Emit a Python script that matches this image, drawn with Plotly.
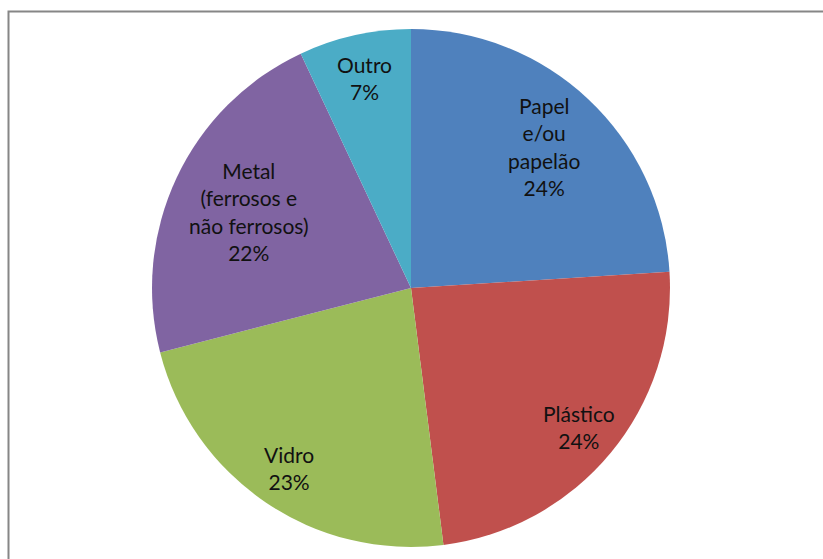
import math
import plotly.graph_objects as go

# Composição dos resíduos recicláveis (%)
labels = ["Papel e/ou papelão", "Plástico", "Vidro", "Metal (ferrosos e não ferrosos)", "Outro"]
label_lines = ["Papel<br>e/ou<br>papelão", "Plástico", "Vidro", "Metal<br>(ferrosos e<br>não ferrosos)", "Outro"]
values = [24, 24, 23, 22, 7]
colors = ["#4F81BD", "#C0504D", "#9BBB59", "#8064A2", "#4BACC6"]

W, H = 823, 559
cx, cy, R = 411, 288, 259  # pie centre and radius in pixels
label_radius = [0.75, 0.84, 0.84, 0.69, 0.83]

fig = go.Figure(go.Pie(
    labels=labels,
    values=values,
    sort=False,
    direction="clockwise",
    rotation=0,
    marker=dict(colors=colors, line=dict(width=0)),
    textinfo="none",
    hoverinfo="label+percent",
    showlegend=False,
    domain=dict(x=[(cx - R) / W, (cx + R) / W], y=[1 - (cy + R) / H, 1 - (cy - R) / H]),
))

# Data labels placed at each slice's mid-angle
total = sum(values)
cum = 0
annotations = []
for text, v, rf in zip(label_lines, values, label_radius):
    mid = (cum + v / 2) / total * 2 * math.pi
    cum += v
    px = cx + rf * R * math.sin(mid)
    py = cy - rf * R * math.cos(mid)
    annotations.append(dict(
        x=px / W, y=1 - py / H, xref="paper", yref="paper",
        text=f"{text}<br>{round(v / total * 100)}%",
        showarrow=False, xanchor="center", yanchor="middle",
        font=dict(family="Lato, Carlito, sans-serif", size=21, color="#111111"),
        align="center",
    ))

fig.update_layout(
    width=W, height=H,
    margin=dict(l=0, r=0, t=0, b=0),
    paper_bgcolor="white",
    plot_bgcolor="white",
    annotations=annotations,
    shapes=[dict(
        type="rect", xref="paper", yref="paper",
        x0=8.5 / W, x1=1.05, y0=-0.05, y1=1 - 11.5 / H,
        line=dict(color="#868686", width=2), fillcolor="rgba(0,0,0,0)", layer="below",
    )],
)

fig.write_html("out.html")
